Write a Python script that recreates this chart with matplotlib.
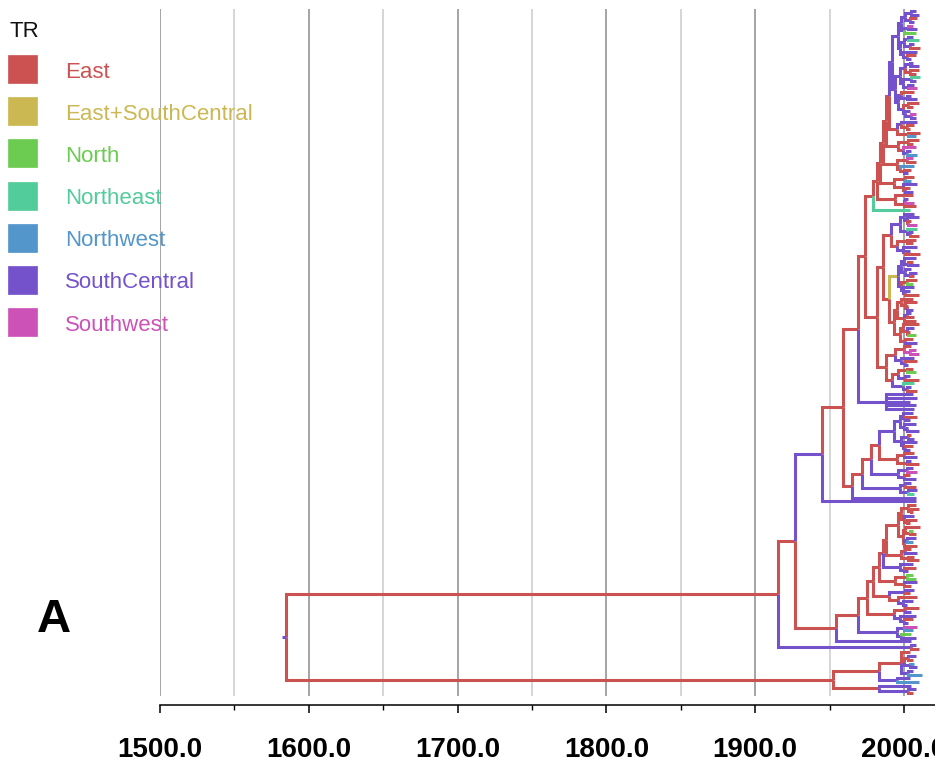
import matplotlib
matplotlib.use("Agg")
import matplotlib.pyplot as plt
from matplotlib.collections import LineCollection
from matplotlib.patches import Rectangle

# ---------------- data ----------------
region_codes = ["E", "Y", "N", "A", "W", "S", "P"]
region_names = ["East", "East+SouthCentral", "North", "Northeast",
                "Northwest", "SouthCentral", "Southwest"]
region_colors = ["#cc5252", "#cbb852", "#6ccc52", "#52cc9a",
                 "#5296cc", "#7352cc", "#cc52b8"]
major_years = [1500, 1600, 1700, 1800, 1900, 2000]
minor_years = [1550, 1650, 1750, 1850, 1950]
tick_labels = ["1500.0", "1600.0", "1700.0", "1800.0", "1900.0", "2000.0"]
legend_title = "TR"
panel_label = "A"

# tree clades (Newick-like: state code + node year)
TSa = "((((S2008,S2010)S2005,(E2009,S2007)S2004)S2001,((P2006,S2009)S2003,N2008)S2000)S1998,(((S2006,A2010)S2003,(S2007,E2011)S2004)S2000,(S2009,(E2008,S2005)S2002)S1999)S1997)S1996"
TSb = "((((S2006,S2010)S2004,(E2010,E2008)E2004)S2001,((A2011,S2008)S2005,(S2007,P2009)S2003)S1999)S1997,((E2007,(S2005,S2009)S2002)S1998,((E2010,E2006)E2003,(S2004,(P2008,S2008)S2005)S2001)S1999)S1996)S1994"
TS = f"({TSa},{TSb})S1992"
T5 = f"({TS},((S2009,(E2007,E2004)E2002)S1998,(E2011,W2008)E2003)E1995)E1990"
T4 = f"({T5},((E2010,E2006)E2003,(P2008,(S2005,W2009)S2002)E1999)E1996)E1988"
T3 = f"({T4},((P2006,E2008)E2002,(W2007,(E2005,S2003)E2000)E1997)E1995)E1986"
T2 = f"({T3},((E2007,W2005)E2001,(S2009,(E2004,S2006)E2001)E1999)E1993)E1984"
T1 = f"({T2},(E2006,((S2003,P2007)S2001,E2008)E2000)E1994)E1982"
T = f"({T1},A2004)E1979"

MA = "(((S2007,(S2010,(E2005,P2009)E2003)S2002)S2000,(A2009,(S2006,E2010)S2004)S2002)S1997,((E2008,E2006)E2002,(S2009,(S2004,E2011)S2001)S1999)E1995)E1991"
YC = "(((S2008,(E2006,S2010)S2003)S2000,(S2005,(S2009,E2007)S2004)S2001)S1998,((E2009,N2006)E2002,(S2007,(S2004,E2010)S2001)S1999)S1998)Y1996"
MR = "(((E2006,(E2009,(E2003,S2006)E2002)E2001)E1998,((S2005,E2007)S2002,E2008)E2000)E1995,((E2010,(S2007,(E2004,N2008)E2003)E2002)E1999,(E2006,S2009)E2001)E1997)E1993"
MB = f"({YC},{MR})E1990"
M1 = f"({MA},{MB})E1986"
M2 = "(((E2005,(P2008,P2010)P2004)E2000,(S2007,(E2009,S2003)S2001)S1998)E1994,(((E2006,N2008)E2002,(S2004,E2010)S2001)E1996,(A2007,(S2005,E2009)S2002)S1999)E1992)E1988"
M = f"({M1},{M2})E1982"
F = f"({T},{M})E1974"
GC = "(S2006,S2009,S2004,S2008,S2007)S1988"
G = f"({F},{GC})E1969"

HB = "(((S2006,(E2009,S2004)S2001)S1999,(S2008,(S2003,S2010)S2002)S2000)S1997,((E2005,S2007)S2003,(S2009,(E2006,S2004)S2001)S1999)S1998)S1993"
H3 = f"({HB},((E2007,S2009)E2000,(S2005,E2010)E2002)E1995)E1983"
H2 = f"({H3},((S2006,P2009)S2002,(E2004,S2008)S2000)S1996)E1978"
H1 = f"({H2},((S2005,E2008)S2001,(S2009,A2007)S2003)S1997)E1972"
H = f"({H1},S2008)E1965"
D1a = f"({G},{H})E1959"
D1 = f"({D1a},S2008)S1945"

DR = "(((E2008,(E2010,E2006)E2005)E2003,(S2007,(E2009,E2004)E2002)E2000)E1998,((E2011,(N2006,E2008)E2004)E2001,((S2008,W2006)S2002,E2009)E2000)E1999)E1996"
D8 = f"({DR},((E2005,S2009)E2001,(E2007,E2010)E2003)E1998)E1988"
D7 = f"({D8},(S2006,(E2008,S2003)S2000)S1997)E1986"
D6 = f"({D7},((N2006,N2008)E2002,(S2009,E2005)E2000)E1994)E1983"
D5 = f"({D6},((S2007,E2004)S2001,(E2009,(S2006,S2002)S1999)E1996)E1990)E1979"
D4 = f"({D5},((E2010,S2005)E2001,(S2008,(E2006,S2003)S2000)S1997)E1993)E1975"
D3 = f"({D4},((P2009,W2006)S2000,(N2005,S2008)S1998)S1995)E1969"
D2 = f"({D3},S2005)E1954"
D = f"({D1},{D2})E1927"
B = f"({D},(S2008,E2010)S2005)E1915"

C1 = "((E2004,((S2008,E2006)E2003,(W2007,S2009)S2004)E2000,(S2006,W2012)S2003)E1998,(S2004,W2010)S1995)E1983"
C2 = "(S2005,(S2008,E2006)S2003)E1983"
C = f"({C1},{C2})E1952"
ROOT = f"({B},{C})S1585"
root_stub_years = 3

# ---------------- parse & layout ----------------
def parse(s):
    pos = 0
    def node():
        nonlocal pos
        children = []
        if s[pos] == "(":
            pos += 1
            while True:
                children.append(node())
                if s[pos] == ",":
                    pos += 1
                    continue
                pos += 1  # ')'
                break
        start = pos
        while pos < len(s) and s[pos] not in ",()":
            pos += 1
        lab = s[start:pos]
        return {"state": lab[0], "year": float(lab[1:]), "children": children}
    return node()

tree = parse(ROOT)
tips = []

def layout(nd):
    if not nd["children"]:
        nd["y"] = len(tips)
        tips.append(nd)
    else:
        for c in nd["children"]:
            layout(c)
        nd["y"] = (nd["children"][0]["y"] + nd["children"][-1]["y"]) / 2

layout(tree)
color_of = dict(zip(region_codes, region_colors))

segs, cols = [], []
def collect(nd):
    for c in nd["children"]:
        segs.append([(nd["year"], nd["y"]), (nd["year"], c["y"]), (c["year"], c["y"])])
        cols.append(color_of[c["state"]])
        collect(c)
collect(tree)

# ---------------- figure ----------------
W, Hpx = 935, 765
fig = plt.figure(figsize=(W / 100, Hpx / 100), dpi=100)
ax_top, ax_bot = 9, 696
ax = fig.add_axes([160 / W, 1 - ax_bot / Hpx, (W - 160) / W, (ax_bot - ax_top) / Hpx])

n = len(tips)
tip_top, tip_bot = 11, 693
s = (tip_bot - tip_top) / (n - 1)
ax.set_ylim((ax_bot - tip_top) / s, (ax_top - tip_top) / s)
ax.set_xlim(1500, 1500 + (W - 160) / 1.488)

for yr in major_years:
    ax.axvline(yr, color="#8c8c8c", lw=1.1, zorder=0)
for yr in minor_years:
    ax.axvline(yr, color="#cacaca", lw=1.1, zorder=0)

lc = LineCollection(segs, colors=cols, linewidths=2.2, capstyle="butt",
                    joinstyle="miter", zorder=2)
ax.add_collection(lc)
ax.plot([tree["year"] - root_stub_years, tree["year"]], [tree["y"], tree["y"]],
        color=color_of[tree["state"]], lw=2.2, solid_capstyle="butt", zorder=2)

for sp in ["top", "right", "left"]:
    ax.spines[sp].set_visible(False)
ax.spines["bottom"].set_position(("outward", 6.5))
ax.spines["bottom"].set_linewidth(1.1)
ax.set_yticks([])
ax.set_xticks(major_years)
ax.set_xticklabels(tick_labels)
ax.set_xticks(minor_years, minor=True)
ax.tick_params(axis="x", which="major", length=5.8, width=1.1, pad=17.5, labelsize=20)
ax.tick_params(axis="x", which="minor", length=3.3, width=1.0)
for lab in ax.get_xticklabels():
    lab.set_fontfamily("Liberation Sans")
    lab.set_fontweight("bold")

# legend
fig.text(10 / W, 1 - 37 / Hpx, legend_title, fontsize=16, family="Liberation Sans",
         color="#111111", va="baseline", ha="left")
for i, (name, colr) in enumerate(zip(region_names, region_colors)):
    top = 55 + 42.2 * i
    fig.add_artist(Rectangle((8 / W, 1 - (top + 28) / Hpx), 29 / W, 28 / Hpx,
                             transform=fig.transFigure, facecolor=colr,
                             edgecolor=colr, lw=0.5))
    fig.text(65 / W, 1 - (top + 22.5) / Hpx, name, fontsize=16, family="Liberation Sans",
             color=colr, va="baseline", ha="left")

fig.text(54 / W, 1 - 620 / Hpx, panel_label, fontsize=34, family="Liberation Sans",
         fontweight="bold", ha="center", va="center")

fig.savefig("out.png", dpi=100)
